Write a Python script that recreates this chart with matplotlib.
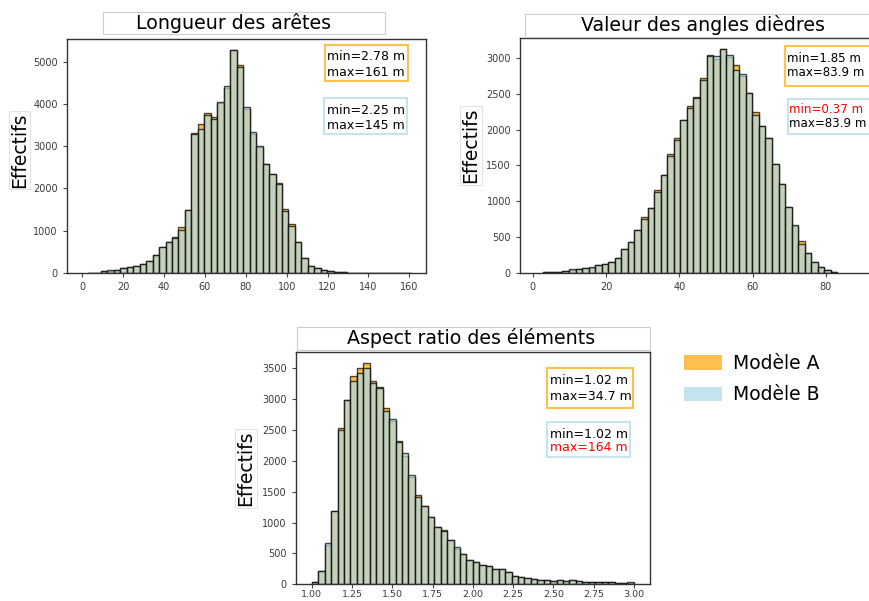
import numpy as np
import matplotlib
matplotlib.use("Agg")
import matplotlib.pyplot as plt
from matplotlib.patches import Patch, Rectangle

W, H = 869, 601

# Longueur des arêtes (m), 50 classes
edge_bins = np.linspace(2.78, 161, 51)
edge_a = [1, 0, 30, 50, 60, 120, 140, 165, 200, 270,
          430, 600, 740, 850, 1075, 1485, 3320, 3520, 3800, 3700,
          4030, 4380, 5280, 4920, 3880, 3300, 2980, 2580, 2330, 2130,
          1510, 1150, 740, 345, 170, 110, 60, 40, 20, 15,
          0, 0, 0, 0, 0, 0, 0, 0, 0, 1]
edge_b = [0, 0, 35, 55, 60, 120, 140, 165, 200, 270,
          425, 600, 740, 830, 1010, 1485, 3300, 3420, 3750, 3650,
          4050, 4420, 5280, 4880, 3930, 3340, 3010, 2580, 2350, 2100,
          1460, 1100, 740, 345, 170, 110, 60, 40, 20, 15,
          0, 0, 0, 0, 1, 0, 0, 0, 0, 0]

# Angles dièdres, 45 classes
angle_bins = np.linspace(2.75, 83.15, 46)
angle_a = [10, 14, 14, 20, 40, 45, 65, 70, 110, 120,
           150, 200, 325, 435, 590, 785, 900, 1160, 1370, 1665,
           1885, 2135, 2330, 2455, 2715, 3045, 2985, 3120, 3020, 2900,
           2755, 2515, 2245, 2050, 1885, 1520, 1240, 915, 650, 440,
           280, 150, 80, 33, 15]
angle_b = [10, 14, 14, 20, 45, 45, 65, 80, 110, 120,
           150, 200, 335, 435, 590, 755, 900, 1125, 1370, 1630,
           1855, 2135, 2300, 2440, 2695, 3025, 3030, 3120, 3045, 2830,
           2775, 2515, 2200, 2050, 1885, 1520, 1240, 915, 665, 400,
           280, 150, 80, 33, 15]

# Aspect ratio, 50 classes entre 1 et 3
ratio_bins = np.linspace(1.0, 3.0, 51)
ratio_a = [43, 217, 640, 1183, 2530, 2980, 3380, 3500, 3590, 3290,
           3200, 2860, 2640, 2325, 2085, 1740, 1450, 1275, 1090, 930,
           885, 720, 580, 490, 400, 360, 315, 290, 240, 240,
           195, 140, 120, 105, 90, 75, 70, 60, 70, 55,
           65, 55, 45, 35, 30, 30, 30, 28, 25, 20]
ratio_b = [43, 217, 667, 1183, 2500, 2990, 3300, 3420, 3510, 3270,
           3185, 2805, 2675, 2310, 2120, 1775, 1410, 1275, 1090, 925,
           870, 720, 610, 490, 400, 360, 315, 290, 240, 240,
           195, 140, 120, 105, 90, 75, 70, 60, 70, 55,
           65, 55, 45, 35, 30, 30, 30, 28, 20, 35]

labels = ["Modèle A", "Modèle B"]
stats_a = [("min=2.78 m", "max=161 m"), ("min=1.85 m", "max=83.9 m"), ("min=1.02 m", "max=34.7 m")]
stats_b = [("min=2.25 m", "max=145 m"), ("min=0.37 m", "max=83.9 m"), ("min=1.02 m", "max=164 m")]
# lines flagged in red
red_b = [(False, False), (True, False), (False, True)]

COL_A = "orange"
COL_B = "lightblue"
BOX_A = "#FFC04D"
BOX_B = "#C6E4ED"


def fx(x):
    return x / W


def fy(y):
    return 1 - y / H


def add_panel(fig, left, top, right, bottom):
    return fig.add_axes([fx(left), fy(bottom), (right - left) / W, (bottom - top) / H])


def draw_hist(ax, bins, a, b):
    ax.hist(bins[:-1], bins=bins, weights=a, color=COL_A, alpha=0.7,
            edgecolor="black", linewidth=1.0)
    ax.hist(bins[:-1], bins=bins, weights=b, color=COL_B, alpha=0.7,
            edgecolor="black", linewidth=1.0)
    ax.tick_params(labelsize=7, labelcolor="#3a3a3a", color="#444444",
                   length=3, width=0.8)
    for s in ax.spines.values():
        s.set_color("#333333")
        s.set_linewidth(1.0)


def title_box(fig, left, top, right, bottom, text, cx):
    fig.add_artist(Rectangle((fx(left), fy(bottom)), (right - left) / W,
                             (bottom - top) / H, transform=fig.transFigure,
                             fc="white", ec="#cccccc", lw=0.8))
    fig.text(fx(cx), fy((top + bottom) / 2), text, fontsize=13.7,
             ha="center", va="center")


def ylabel(fig, cx, cy):
    fig.text(fx(cx), fy(cy), "Effectifs", fontsize=13.5, rotation=90,
             ha="center", va="center",
             bbox=dict(fc="white", ec="#dddddd", lw=0.6, pad=1))


def stat_box(fig, left, top, right, bottom, lines, reds, ec, tx, ys, size=9):
    fig.add_artist(Rectangle((fx(left), fy(bottom)), (right - left) / W,
                             (bottom - top) / H, transform=fig.transFigure,
                             fc="white", ec=ec, lw=1.5))
    for line, red, y in zip(lines, reds, ys):
        fig.text(fx(tx), fy(y), line, fontsize=size,
                 color="red" if red else "black", ha="left", va="center")


fig = plt.figure(figsize=(W / 100, H / 100), dpi=100)

# Longueur des arêtes
ax1 = add_panel(fig, 66.7, 39, 425.7, 272.7)
draw_hist(ax1, edge_bins, edge_a, edge_b)
ax1.set_xlim(-7.6, 168)
ax1.set_xticks(np.arange(0, 161, 20))
title_box(fig, 103, 12, 385, 34, "Longueur des arêtes", 234)
ylabel(fig, 19.5, 150)
stat_box(fig, 325, 45, 408, 81, stats_a[0], (False, False), BOX_A, 327, (57, 72))
stat_box(fig, 324, 98, 407, 134, stats_b[0], red_b[0], BOX_B, 327, (110, 125.5))

# Angles dièdres (le cadre déborde à droite de la figure)
ax2 = add_panel(fig, 520, 38.3, 900, 272.7)
draw_hist(ax2, angle_bins, angle_a, angle_b)
ax2.set_xlim(-3.46, 100.2)
ax2.set_xticks(np.arange(0, 81, 20))
ax2.set_yticks(np.arange(0, 3001, 500))
title_box(fig, 525, 14, 900, 36.7, "Valeur des angles dièdres", 703)
ylabel(fig, 471, 145.5)
stat_box(fig, 785, 45.7, 900, 85.7, stats_a[1], (False, False), BOX_A, 787, (58.3, 72.7), 8.6)
stat_box(fig, 787.7, 99, 900, 134, stats_b[1], red_b[1], BOX_B, 789, (109.3, 123.3), 8.6)

# Aspect ratio
ax3 = add_panel(fig, 295.7, 351.7, 650, 584.3)
draw_hist(ax3, ratio_bins, ratio_a, ratio_b)
ax3.set_xlim(0.9, 3.1)
ax3.set_xticks(np.arange(1.0, 3.01, 0.25))
ax3.set_xticklabels([f"{v:.2f}" for v in np.arange(1.0, 3.01, 0.25)])
ax3.set_yticks(np.arange(0, 3501, 500))
ax3.tick_params(axis="x", pad=1.2, labelsize=6.8)
title_box(fig, 296.7, 326.7, 650, 350, "Aspect ratio des éléments", 471)
ylabel(fig, 246, 468.5)
stat_box(fig, 547, 368.3, 633, 407.7, stats_a[2], (False, False), BOX_A, 550, (381, 396))
stat_box(fig, 547, 421.7, 630, 456.7, stats_b[2], red_b[2], BOX_B, 550, (434.3, 447.7))

handles = [Patch(facecolor=COL_A, alpha=0.7, edgecolor="none"),
           Patch(facecolor=COL_B, alpha=0.7, edgecolor="none")]
fig.legend(handles, labels, loc="upper left", bbox_to_anchor=(fx(684), fy(354)),
           frameon=False, fontsize=13.5, borderpad=0, borderaxespad=0,
           handlelength=2.0, handleheight=0.8, handletextpad=0.6,
           labelspacing=0.65)

fig.savefig("out.png", dpi=100)
